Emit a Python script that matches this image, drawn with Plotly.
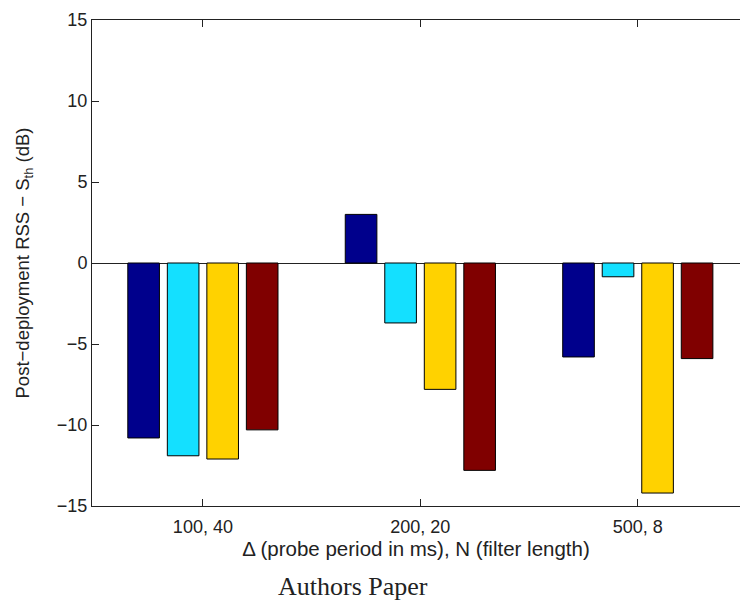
import plotly.graph_objects as go

categories = ["100, 40", "200, 20", "500, 8"]
series_a = [-10.8, 3.0, -5.8]
series_b = [-11.9, -3.7, -0.85]
series_c = [-12.1, -7.8, -14.2]
series_d = [-10.3, -12.8, -5.9]
colors = ["#00008C", "#14E0FF", "#FFD200", "#800000"]
yticks = [-15, -10, -5, 0, 5, 10, 15]

xpos = [1, 2, 3]
fig = go.Figure()
for vals, col in zip([series_a, series_b, series_c, series_d], colors):
    fig.add_trace(go.Bar(x=xpos, y=vals, marker=dict(color=col, line=dict(color="black", width=1)),
                         showlegend=False))

fig.update_layout(
    width=740, height=600,
    margin=dict(l=92, r=0, t=20, b=94),
    paper_bgcolor="white", plot_bgcolor="white",
    barmode="group", bargap=0.273, bargroupgap=0.2,
    font=dict(family="Liberation Sans, Arial", size=18, color="#222"),
    xaxis=dict(range=[0.49, 3.47], tickvals=xpos, ticktext=categories,
               showline=True, linecolor="#222", linewidth=1, mirror="ticks",
               ticks="inside", ticklen=7, tickcolor="#222", showgrid=False, zeroline=False,
               ticklabelstandoff=4,
               title=dict(text="\u0394 (probe period in ms), N (filter length)", standoff=2,
                          font=dict(size=20.5))),
    yaxis=dict(range=[-15, 15], tickvals=yticks, ticktext=["\u221215", "\u221210", "\u22125", "0", "5", "10", "15"],
               showline=True, linecolor="#222", linewidth=1,
               ticks="inside", ticklen=7, tickcolor="#222", showgrid=False,
               zeroline=True, zerolinecolor="#222", zerolinewidth=1.3,
               title=dict(text="Post\u2212deployment RSS \u2212 S<sub>th</sub> (dB)", standoff=22,
                          font=dict(size=18.5))),
)
fig.add_annotation(text="Authors Paper", xref="paper", yref="paper", x=0.403, y=-0.166,
                   showarrow=False, xanchor="center", yanchor="middle",
                   font=dict(family="Liberation Serif, Times New Roman", size=26, color="#222"))
fig.write_html("out.html")
